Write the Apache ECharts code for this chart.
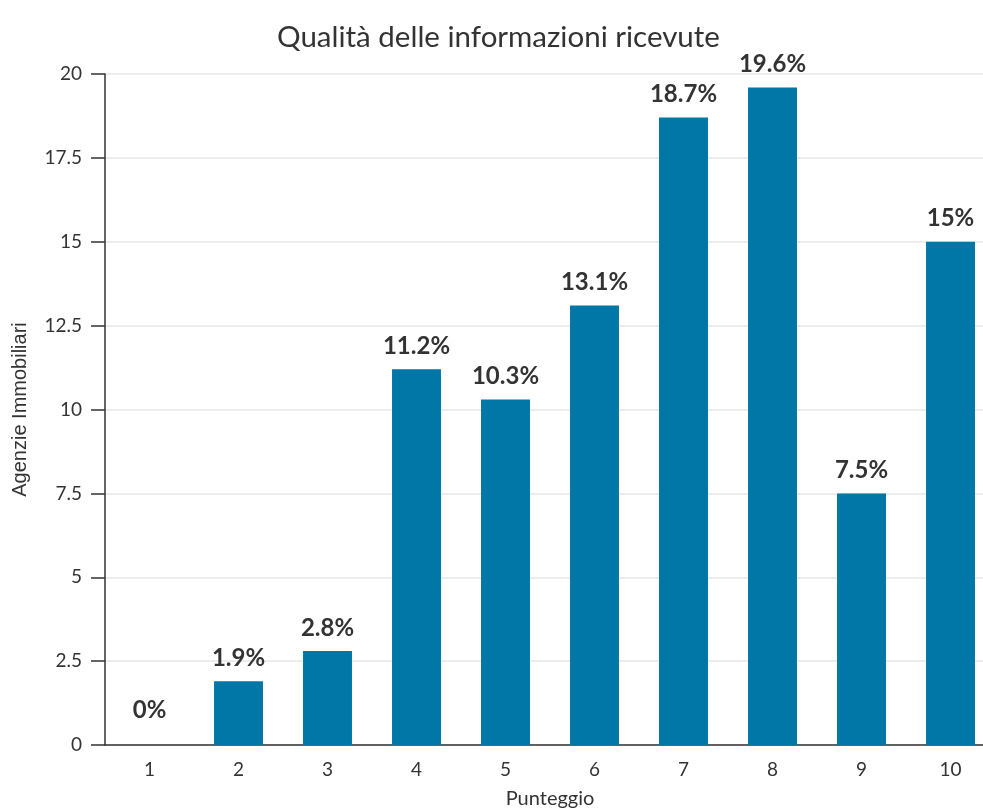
<!DOCTYPE html>
<html>
<head>
<meta charset="utf-8">
<script src="https://cdn.jsdelivr.net/npm/echarts@6/dist/echarts.min.js"></script>
<style>
  html, body { margin: 0; padding: 0; background: #ffffff; overflow: hidden; }
  #chart { width: 983px; height: 811px; }
</style>
</head>
<body>
<div id="chart"></div>
<script>
// Score categories (1–10) and share of agencies for each score
const categories = ['1', '2', '3', '4', '5', '6', '7', '8', '9', '10'];
const shares = [0, 1.9, 2.8, 11.2, 10.3, 13.1, 18.7, 19.6, 7.5, 15];
const yTicks = [0, 2.5, 5, 7.5, 10, 12.5, 15, 17.5, 20];

const chart = echarts.init(document.getElementById('chart'));
const font = 'Lato, "Noto Sans", sans-serif';
const ink = '#333333';

// empty bars get their label lifted a little higher off the axis
const barData = shares.map(v => v === 0
  ? { value: v, label: { distance: 23 } }
  : v);

chart.setOption({
  animation: false,
  textStyle: { fontFamily: font },
  title: {
    text: 'Qualità delle informazioni ricevute',
    left: 272,
    top: 17,
    textStyle: { fontFamily: font, fontSize: 29.5, fontWeight: 'normal', color: ink }
  },
  grid: {
    left: 105, width: 890, top: 74, height: 671,
    containLabel: false,
    outerBoundsMode: 'none'
  },
  xAxis: {
    type: 'category',
    data: categories,
    name: 'Punteggio',
    nameLocation: 'middle',
    nameGap: 44,
    nameTextStyle: { fontFamily: font, fontSize: 20, color: ink },
    axisLine: { lineStyle: { color: ink, width: 1.5 } },
    axisTick: { alignWithLabel: true, length: 13, lineStyle: { color: ink, width: 1.5 } },
    axisLabel: { fontFamily: font, fontSize: 19, color: ink, margin: 15 }
  },
  yAxis: {
    type: 'value',
    min: 0,
    max: 20,
    interval: 2.5,
    name: 'Agenzie Immobiliari',
    nameLocation: 'middle',
    nameGap: 75,
    nameRotate: 90,
    nameTextStyle: { fontFamily: '"Liberation Sans", Arial, sans-serif', fontSize: 20, color: ink },
    axisLine: { show: true, lineStyle: { color: ink, width: 1.5 } },
    axisTick: { show: true, length: 14, lineStyle: { color: ink, width: 1.5 } },
    axisLabel: {
      fontFamily: font, fontSize: 19, color: ink, margin: 23,
      formatter: v => yTicks.includes(v) ? String(v) : ''
    },
    splitLine: { lineStyle: { color: '#e6e6e6', width: 1.5 } }
  },
  series: [{
    type: 'bar',
    data: barData,
    barWidth: '55%',
    itemStyle: { color: '#0077a7' },
    label: {
      show: true,
      position: 'top',
      distance: 11,
      fontFamily: font,
      fontSize: 24,
      fontWeight: 'bold',
      color: ink,
      formatter: p => p.value + '%'
    }
  }]
});
</script>
</body>
</html>
